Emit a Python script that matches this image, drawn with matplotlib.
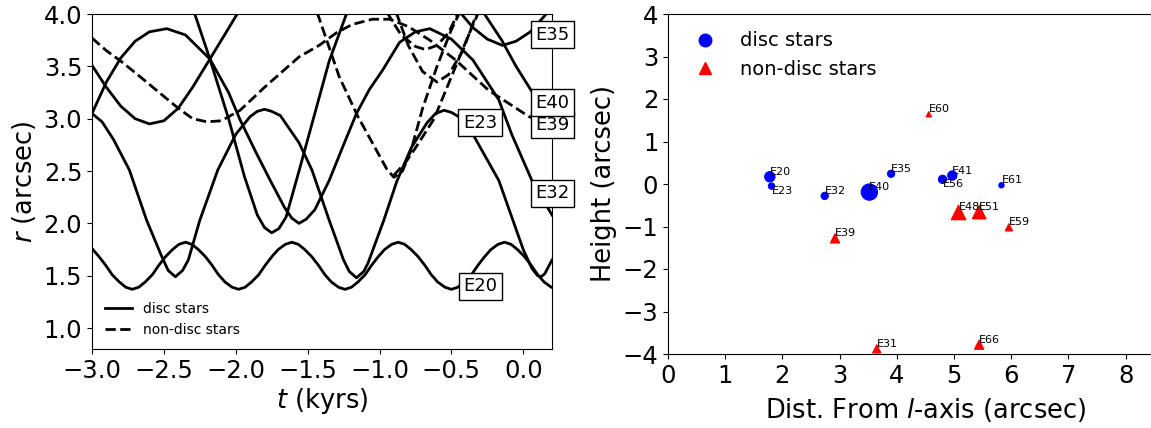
import matplotlib.pyplot as plt
from matplotlib.lines import Line2D

# ---- left panel: projected radius r (arcsec) vs time t (kyr) ----
e20_t = [-3.0, -2.95, -2.905, -2.86, -2.81, -2.765, -2.72, -2.675, -2.63, -2.58, -2.535, -2.49,
         -2.44, -2.395, -2.35, -2.305, -2.26, -2.21, -2.165, -2.12, -2.075, -2.025, -1.98,
         -1.935, -1.89, -1.84, -1.795, -1.75, -1.705, -1.655, -1.61, -1.565, -1.52, -1.47,
         -1.425, -1.38, -1.335, -1.285, -1.24, -1.195, -1.15, -1.10, -1.055, -1.01, -0.965,
         -0.915, -0.87, -0.825, -0.78, -0.73, -0.685, -0.64, -0.595, -0.545, -0.50, -0.455,
         -0.41, -0.36, -0.315, -0.27, -0.225, -0.175, -0.13, -0.085, -0.04, 0.01, 0.055,
         0.10, 0.145, 0.195, 0.24]
e20_r = [1.76, 1.68, 1.60, 1.51, 1.44, 1.39, 1.37, 1.39, 1.44, 1.51, 1.60, 1.68,
         1.75, 1.80, 1.82, 1.80, 1.75, 1.68, 1.60, 1.51, 1.44, 1.39, 1.37,
         1.39, 1.44, 1.51, 1.60, 1.68, 1.75, 1.80, 1.82, 1.80, 1.75, 1.68,
         1.60, 1.51, 1.44, 1.39, 1.37, 1.39, 1.44, 1.51, 1.60, 1.68, 1.75,
         1.80, 1.82, 1.80, 1.75, 1.68, 1.60, 1.51, 1.44, 1.39, 1.37, 1.39,
         1.44, 1.51, 1.60, 1.68, 1.75, 1.80, 1.82, 1.80, 1.75, 1.68, 1.60,
         1.51, 1.44, 1.39, 1.37]

e23_t = [-3.0, -2.93, -2.85, -2.74, -2.62, -2.52, -2.47, -2.42, -2.37, -2.33, -2.25, -2.125,
         -2.0, -1.90, -1.85, -1.80, -1.75, -1.69, -1.56, -1.47, -1.35, -1.25, -1.21, -1.16,
         -1.11, -1.08, -0.97, -0.88, -0.78, -0.67, -0.61, -0.55, -0.50, -0.45, -0.35, -0.17,
         0.0, 0.06, 0.10, 0.125, 0.15, 0.2]
e23_r = [3.05, 2.97, 2.80, 2.51, 2.03, 1.70, 1.55, 1.49, 1.55, 1.65, 2.03, 2.51,
         2.85, 3.02, 3.07, 3.09, 3.07, 3.03, 2.77, 2.51, 2.03, 1.65, 1.54, 1.48,
         1.54, 1.62, 2.03, 2.40, 2.72, 2.96, 3.05, 3.08, 3.06, 3.02, 2.85, 2.41,
         1.75, 1.57, 1.50, 1.49, 1.52, 1.65]

e32_t = [-3.0, -2.9, -2.8, -2.7, -2.6, -2.48, -2.35, -2.18, -2.05, -1.97, -1.86, -1.76,
         -1.66, -1.61, -1.56, -1.51, -1.45, -1.35, -1.25, -1.16, -1.07, -0.98, -0.86, -0.75,
         -0.65, -0.5, -0.35, -0.17, -0.08, 0.06, 0.2]
e32_r = [3.05, 3.35, 3.58, 3.74, 3.83, 3.86, 3.80, 3.57, 3.25, 2.99, 2.68, 2.41,
         2.15, 2.05, 2.00, 2.04, 2.13, 2.41, 2.75, 3.05, 3.28, 3.46, 3.73, 3.83,
         3.86, 3.76, 3.56, 3.18, 2.85, 2.41, 2.08]

e35_t = [-0.50, -0.43, -0.35, -0.25, -0.145, -0.05, 0.05, 0.16, 0.22]
e35_r = [4.15, 4.00, 3.87, 3.76, 3.70, 3.74, 3.83, 4.00, 4.08]

e40_t = [-0.33, -0.27, -0.15, -0.05, 0.055, 0.2]
e40_r = [4.15, 4.00, 3.75, 3.50, 3.27, 2.97]

disc_a_t = [-3.0, -2.9, -2.8, -2.7, -2.6, -2.5, -2.4, -2.3, -2.18, -2.1, -1.99, -1.9]
disc_a_r = [3.51, 3.30, 3.12, 3.00, 2.95, 2.98, 3.10, 3.30, 3.57, 3.75, 4.00, 4.20]

disc_b_t = [-2.35, -2.285, -2.18, -2.05, -1.94, -1.85, -1.80, -1.75, -1.70, -1.65, -1.56,
            -1.45, -1.35, -1.23, -1.18]
disc_b_r = [4.25, 4.00, 3.57, 3.00, 2.45, 2.08, 1.96, 1.91, 1.95, 2.06, 2.50,
            3.05, 3.55, 4.00, 4.20]

e39_t = [-3.0, -2.9, -2.8, -2.7, -2.55, -2.4, -2.3, -2.2, -2.1, -1.97, -1.8, -1.56,
         -1.42, -1.3, -1.19, -1.05, -0.93, -0.8, -0.65, -0.47, -0.24, 0.04, 0.2]
e39_r = [3.77, 3.65, 3.55, 3.44, 3.27, 3.10, 3.00, 2.97, 2.98, 3.08, 3.30, 3.59,
         3.70, 3.82, 3.90, 3.95, 3.95, 3.88, 3.75, 3.56, 3.27, 3.02, 2.93]

nondisc_a_t = [-1.50, -1.43, -1.28, -1.15, -1.05, -0.95, -0.9, -0.84, -0.78, -0.7, -0.6, -0.5, -0.43, -0.38]
nondisc_a_r = [4.25, 4.00, 3.40, 3.02, 2.77, 2.52, 2.44, 2.50, 2.70, 3.10, 3.50, 3.85, 4.05, 4.20]

nondisc_b_t = [-0.90, -0.82, -0.75, -0.62, -0.5, -0.38, -0.30, -0.25]
nondisc_b_r = [2.46, 2.58, 2.72, 3.00, 3.40, 3.80, 4.05, 4.20]

nondisc_c_t = [-1.02, -0.95, -0.85, -0.75, -0.68, -0.6, -0.52, -0.45, -0.40]
nondisc_c_r = [4.20, 4.02, 3.80, 3.69, 3.66, 3.70, 3.82, 4.02, 4.15]

nondisc_d_t = [-0.95, -0.88, -0.80, -0.70, -0.60, -0.52, -0.42, -0.32, -0.27]
nondisc_d_r = [4.20, 4.00, 3.70, 3.45, 3.35, 3.42, 3.65, 4.02, 4.15]

solid_tracks = [(e20_t, e20_r), (e23_t, e23_r), (e32_t, e32_r), (e35_t, e35_r),
                (e40_t, e40_r), (disc_a_t, disc_a_r), (disc_b_t, disc_b_r)]
dashed_tracks = [(e39_t, e39_r), (nondisc_a_t, nondisc_a_r), (nondisc_b_t, nondisc_b_r),
                 (nondisc_c_t, nondisc_c_r), (nondisc_d_t, nondisc_d_r)]

# name labels on the orbit panel (drawn in this order, E40 sits on top of E39)
label_names = ["E35", "E39", "E40", "E32", "E23", "E20"]
label_t = [0.205, 0.205, 0.205, 0.205, -0.30, -0.30]
label_r = [3.80, 2.94, 3.15, 2.29, 2.96, 1.40]

# ---- right panel: star positions ----
disc_names = ["E20", "E23", "E32", "E40", "E35", "E56", "E41", "E61"]
disc_dist = [1.78, 1.81, 2.74, 3.52, 3.90, 4.80, 4.97, 5.83]
disc_height = [0.17, -0.05, -0.28, -0.19, 0.24, 0.11, 0.20, -0.03]
disc_area = [52, 19, 25, 133, 25, 33, 42, 13]

nondisc_names = ["E60", "E48", "E51", "E59", "E39", "E31", "E66"]
nondisc_dist = [4.56, 5.08, 5.44, 5.96, 2.92, 3.65, 5.44]
nondisc_height = [1.64, -0.67, -0.66, -1.02, -1.28, -3.88, -3.78]
nondisc_area = [13, 106, 94, 25, 42, 33, 42]

labels_below = ["E23", "E56"]

fig = plt.figure(figsize=(11.51, 4.28), dpi=100)

# left panel
ax1 = fig.add_axes([92 / 1151, 79 / 428, 460 / 1151, 335 / 428])
for t, r in solid_tracks:
    ax1.plot(t, r, color="black", lw=2, ls="-")
for t, r in dashed_tracks:
    ax1.plot(t, r, color="black", lw=2, ls="--")
for name, t, r in zip(label_names, label_t, label_r):
    ax1.text(t, r, name, fontsize=13, ha="center", va="center", clip_on=False, zorder=5,
             bbox=dict(boxstyle="square,pad=0.25", facecolor="white", edgecolor="black", lw=1))
ax1.set_xlim(-3.0, 0.2)
ax1.set_ylim(0.8, 4.0)
ax1.set_xticks([-3.0, -2.5, -2.0, -1.5, -1.0, -0.5, 0.0])
ax1.set_yticks([1.0, 1.5, 2.0, 2.5, 3.0, 3.5, 4.0])
ax1.tick_params(labelsize=17.5)
ax1.set_xlabel("$t$ (kyrs)", fontsize=18.5, labelpad=2)
ax1.set_ylabel("$r$ (arcsec)", fontsize=18.5, labelpad=4)
leg_handles = [Line2D([], [], color="black", lw=2, ls="-"),
               Line2D([], [], color="black", lw=2, ls="--")]
ax1.legend(leg_handles, ["disc stars", "non-disc stars"], loc="lower left",
           fontsize=10, frameon=False)

# right panel (runs off the right edge of the figure, as in the original)
ax2 = fig.add_axes([668 / 1151, 74 / 428, 9 * 57.2 / 1151, 340 / 428])
ax2.scatter(disc_dist, disc_height, s=disc_area, c="blue", marker="o", zorder=3)
ax2.scatter(nondisc_dist, nondisc_height, s=nondisc_area, c="red", marker="^", zorder=3)
for names, xs, ys in [(disc_names, disc_dist, disc_height),
                      (nondisc_names, nondisc_dist, nondisc_height)]:
    for name, x, y in zip(names, xs, ys):
        va = "top" if name in labels_below else "bottom"
        ax2.text(x, y, name, fontsize=8, ha="left", va=va)
ax2.set_xlim(0, 9)
ax2.set_ylim(-4, 4)
ax2.set_xticks(range(0, 9))
ax2.set_yticks(range(-4, 5))
ax2.tick_params(labelsize=17.5)
ax2.set_xlabel("Dist. From $l$-axis (arcsec)", fontsize=18.5, labelpad=6)
ax2.set_ylabel("Height (arcsec)", fontsize=18.5, labelpad=4)
leg2 = [Line2D([], [], color="blue", marker="o", ls="", markersize=9),
        Line2D([], [], color="red", marker="^", ls="", markersize=9)]
ax2.legend(leg2, ["disc stars", "non-disc stars"], loc="upper left", fontsize=14,
           frameon=False)

fig.savefig("out.png", dpi=100)
